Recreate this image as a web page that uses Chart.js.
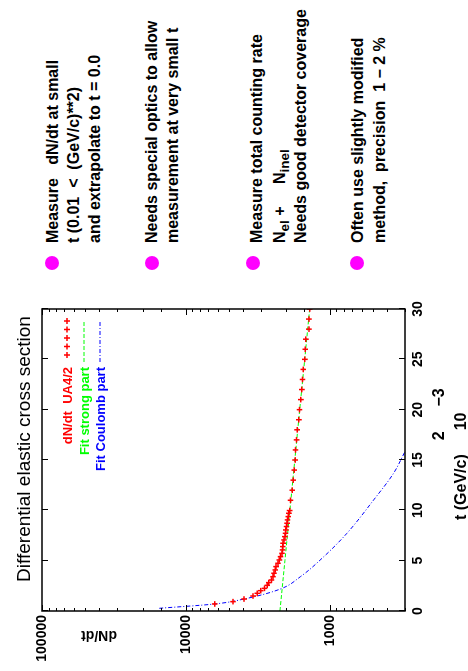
<!DOCTYPE html>
<html>
<head>
<meta charset="utf-8">
<script src="https://cdn.jsdelivr.net/npm/chart.js@4/dist/chart.umd.min.js"></script>
<style>
html, body { margin: 0; padding: 0; background: #fff; }
body { width: 468px; height: 671px; overflow: hidden; position: relative; }
/* the slide is landscape, turned 90deg counter-clockwise */
#page { position: absolute; left: 0; top: 0; width: 671px; height: 468px;
        transform-origin: 0 0; transform: translateY(671px) rotate(-90deg); }
#plot { position: absolute; left: 0; top: 0; }
#notes { position: absolute; left: 400px; top: 0; width: 271px; height: 468px;
         font: bold 16px "Liberation Sans", Arial, sans-serif; color: #000; }
.bul { position: absolute; width: 14px; height: 14px; border-radius: 50%; background: #ff00ff; }
.ln { position: absolute; left: 28px; white-space: pre; line-height: 16px; }
.ln sub { font-size: 0.85em; vertical-align: -4px; line-height: 0; }
</style>
</head>
<body>
<div id="page">
  <canvas id="plot" width="400" height="468"></canvas>
  <div id="notes"></div>
</div>
<script>
// UA4/2 dN/dt points (t in 10^-3 (GeV/c)^2)
const tData = [0.70, 0.93, 1.19, 1.49, 1.76, 2.02, 2.25, 2.55, 2.82, 3.08, 3.41, 3.75, 4.08, 4.41, 4.74,
  5.07, 5.40, 5.73, 6.07, 6.40, 6.73, 7.06, 7.39, 7.72, 8.05, 8.39, 8.72, 9.05, 9.38, 9.71, 9.98,
  11, 12, 13, 14, 15, 16, 17, 18, 19, 20, 21, 22, 23, 24, 25, 26, 27, 28, 29, 30];
const dndt = [6300, 4700, 3940, 3410, 3190, 3020, 2840, 2720, 2650, 2540, 2480, 2440, 2390, 2360, 2290,
  2240, 2200, 2150, 2130, 2120, 2110, 2080, 2050, 2030, 2020, 2000, 1980, 1965, 1945, 1925, 1900,
  1875, 1825, 1795, 1765, 1740, 1730, 1700, 1685, 1640, 1623, 1588, 1563, 1546, 1530,
  1490, 1482, 1466, 1397, 1397, 1377];

// fit, strong part
const strongT = [0, 5, 10, 15, 20, 25, 30];
const strongVals = [2220, 2050, 1893, 1750, 1618, 1493, 1380];

// fit, coulomb part
const coulT = [0.27, 0.70, 1.19, 2.19, 3.41, 5.40, 7.72, 11.04, 13.69, 15.84];
const coulVals = [15300, 6300, 3950, 2200, 1600, 1100, 760, 495, 360, 300];

const xTicks = [0, 5, 10, 15, 20, 25, 30];
const yTicks = [1000, 10000, 100000];

const legendLabels = ['dN/dt  UA4/2', 'Fit strong part', 'Fit Coulomb part'];

const notes = [
  { y: 52, lines: [[58, 'Measure   dN/dt at small'], [79, 't (0.01  <  (GeV/c)**2)'], [100, 'and extrapolate to t = 0.0']] },
  { y: 152, lines: [[157, 'Needs special optics to allow'], [178, 'measurement at very small t']] },
  { y: 253, lines: [[262, 'Measure total counting rate'], [285, 'N<sub>el</sub> +     N<sub>inel</sub>'], [306, 'Needs good detector coverage']] },
  { y: 357, lines: [[363, 'Often use slightly modified'], [385, 'method,  precision  1 \u2212 2 %']] }
];

const box = document.getElementById('notes');
notes.forEach(n => {
  const b = document.createElement('div');
  b.className = 'bul';
  b.style.left = '1px';
  b.style.top = (n.y - 7) + 'px';
  box.appendChild(b);
  n.lines.forEach(l => {
    const d = document.createElement('div');
    d.className = 'ln';
    d.style.top = (l[0] - 13.5) + 'px';
    d.innerHTML = l[1];
    box.appendChild(d);
  });
});

const FONT = '"Liberation Sans", Arial, sans-serif';

function isDecade(v) {
  const l = Math.log10(v);
  return Math.abs(l - Math.round(l)) < 1e-9;
}

// gnuplot style frame, inward ticks on all four sides, titles and key
const gnu = {
  id: 'gnu',
  afterDatasetsDraw(chart) {
    const ctx = chart.ctx, a = chart.chartArea;
    const x = chart.scales.x, y = chart.scales.y;
    ctx.save();
    ctx.strokeStyle = '#000';
    ctx.lineWidth = 1;
    ctx.beginPath();
    x.ticks.forEach(t => {
      const px = Math.round(x.getPixelForValue(t.value)) + 0.5;
      ctx.moveTo(px, a.bottom); ctx.lineTo(px, a.bottom - 6);
      ctx.moveTo(px, a.top); ctx.lineTo(px, a.top + 6);
    });
    y.ticks.forEach(t => {
      const py = Math.round(y.getPixelForValue(t.value)) + 0.5;
      const len = isDecade(t.value) ? 6 : 3;
      ctx.moveTo(a.left, py); ctx.lineTo(a.left + len, py);
      ctx.moveTo(a.right, py); ctx.lineTo(a.right - len, py);
    });
    ctx.stroke();
    ctx.lineWidth = 1.5;
    ctx.strokeRect(a.left, a.top, a.right - a.left, a.bottom - a.top);
    ctx.restore();
  },
  afterDraw(chart) {
    const ctx = chart.ctx;
    ctx.save();
    ctx.fillStyle = '#000';
    ctx.textBaseline = 'alphabetic';
    // title
    ctx.font = '19px ' + FONT;
    ctx.textAlign = 'center';
    ctx.fillText('Differential elastic cross section', 222, 30);
    // x title, gnuplot enhanced text
    ctx.font = 'bold 16px ' + FONT;
    ctx.textAlign = 'left';
    let px = 151;
    ctx.fillText('t (GeV/c)', px, 466);
    px += ctx.measureText('t (GeV/c)').width + 14;
    ctx.fillText('2', px, 444);
    px += ctx.measureText('2').width + 1;
    ctx.fillText('10', px, 466);
    px += ctx.measureText('10').width + 6;
    ctx.fillText('\u22123', px, 444);
    // y title
    ctx.save();
    ctx.translate(40, 99);
    ctx.rotate(-Math.PI / 2);
    ctx.textAlign = 'center';
    ctx.font = 'bold 14px ' + FONT;
    ctx.fillText('dN/dt', 0, 0);
    ctx.restore();
    // key
    ctx.font = 'bold 13px ' + FONT;
    ctx.textAlign = 'right';
    const rows = [67, 84, 100];
    chart.data.datasets.forEach((ds, i) => {
      const ry = rows[i];
      ctx.fillStyle = ds.borderColor;
      ctx.fillText(legendLabels[i], 304, ry + 5);
      ctx.strokeStyle = ds.borderColor;
      if (i === 0) {
        ctx.lineWidth = 1.5;
        ctx.beginPath();
        for (let k = 0; k < 5; k++) {
          const cx = 316 + k * 8.5;
          ctx.moveTo(cx - 3, ry); ctx.lineTo(cx + 3, ry);
          ctx.moveTo(cx, ry - 3); ctx.lineTo(cx, ry + 3);
        }
        ctx.stroke();
      } else {
        ctx.lineWidth = 1;
        ctx.setLineDash(ds.borderDash);
        ctx.beginPath();
        ctx.moveTo(309, ry); ctx.lineTo(351, ry);
        ctx.stroke();
        ctx.setLineDash([]);
      }
    });
    ctx.restore();
  }
};

const toXY = (xs, ys) => xs.map((v, i) => ({ x: v, y: ys[i] }));

new Chart(document.getElementById('plot'), {
  type: 'scatter',
  data: {
    datasets: [
      {
        label: legendLabels[0],
        data: toXY(tData, dndt),
        showLine: false,
        pointStyle: 'cross',
        pointRadius: 2.8,
        borderWidth: 1.5,
        borderColor: '#ff0000',
        backgroundColor: '#ff0000'
      },
      {
        label: legendLabels[1],
        data: toXY(strongT, strongVals),
        showLine: true,
        pointRadius: 0,
        borderWidth: 1,
        borderDash: [4, 2],
        borderColor: '#00ff00'
      },
      {
        label: legendLabels[2],
        data: toXY(coulT, coulVals),
        showLine: true,
        pointRadius: 0,
        borderWidth: 1,
        borderDash: [4, 2, 1, 2],
        cubicInterpolationMode: 'monotone',
        borderColor: '#0000ff'
      }
    ]
  },
  options: {
    responsive: false,
    animation: false,
    events: [],
    layout: { padding: { top: 42, right: 38, left: 0, bottom: 0 } },
    plugins: { legend: { display: false }, title: { display: false }, tooltip: { enabled: false } },
    scales: {
      x: {
        type: 'linear', min: 0, max: 30,
        afterBuildTicks: s => { s.ticks = xTicks.map(v => ({ value: v })); },
        afterFit: s => { s.height = 63; },
        grid: { display: false, drawTicks: false },
        border: { display: false },
        ticks: { padding: 5, color: '#000', font: { family: FONT, size: 14, weight: 'bold' } }
      },
      y: {
        type: 'logarithmic', min: 300, max: 100000,
        afterFit: s => { s.width = 60; },
        grid: { display: false, drawTicks: false },
        border: { display: false },
        ticks: {
          padding: 4, color: '#000', autoSkip: false,
          font: { family: FONT, size: 14, weight: 'bold' },
          callback: v => (yTicks.includes(v) ? String(v) : '')
        }
      }
    }
  },
  plugins: [gnu]
});
</script>
</body>
</html>
